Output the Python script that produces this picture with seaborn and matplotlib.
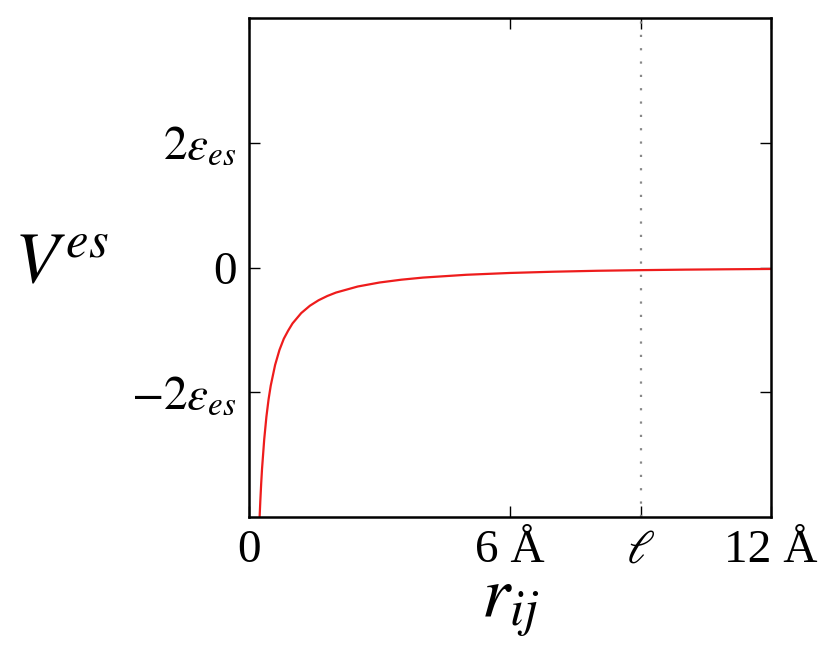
import numpy as np
import pandas as pd
import seaborn as sns
import matplotlib.pyplot as plt

# screened electrostatic potential (units of eps_es)
r_vals = [0.24, 0.26, 0.28, 0.30, 0.35, 0.40, 0.45, 0.50, 0.60, 0.70, 0.80, 0.90,
          1.0, 1.2, 1.4, 1.6, 1.8, 2.0, 2.5, 3.0, 3.5, 4.0, 5.0, 6.0, 7.0, 8.0,
          9.0, 10.0, 11.0, 12.0]
v_vals = [-4.06, -3.74, -3.46, -3.22, -2.75, -2.39, -2.11, -1.89, -1.56, -1.32,
          -1.14, -1.01, -0.895, -0.729, -0.611, -0.523, -0.455, -0.400, -0.303,
          -0.239, -0.194, -0.160, -0.115, -0.086, -0.066, -0.051, -0.041,
          -0.033, -0.027, -0.022]

ell = 9.0
x_ticks = [0, 6, ell, 12]
x_labels = ["0", "6 Å", r"$\ell$", "12 Å"]
y_ticks = [-2, 0, 2]
y_labels = [r"$-2\varepsilon_{es}$", "0", r"$2\varepsilon_{es}$"]

sns.set_style("ticks")
plt.rcParams['font.family'] = ['Liberation Serif', 'DejaVu Serif']
plt.rcParams['mathtext.fontset'] = 'stix'
plt.rcParams['text.color'] = 'black'
plt.rcParams['xtick.color'] = 'black'
plt.rcParams['ytick.color'] = 'black'
plt.rcParams['axes.labelcolor'] = 'black'

df = pd.DataFrame({"r": r_vals, "V": v_vals})

fig = plt.figure(figsize=(8.3, 6.64), dpi=100)
ax = fig.add_axes([0.300, 0.221, 0.629, 0.752])

sns.lineplot(data=df, x="r", y="V", color="#ee1c1c", linewidth=1.6, ax=ax)
ax.axvline(ell, color="#888888", linestyle=(0, (1, 5)), linewidth=1.6)

ax.set_xlim(0, 12)
ax.set_ylim(-4, 4)
ax.set_xticks(x_ticks)
ax.set_xticklabels(x_labels, fontsize=34)
ax.set_yticks(y_ticks)
ax.set_yticklabels(y_labels, fontsize=34)
ax.tick_params(direction="in", length=8, width=1, top=True, right=True, pad=9)

for s in ax.spines.values():
    s.set_linewidth(1.8)
    s.set_color("black")

ax.set_xlabel(r"$r_{ij}$", fontsize=52)
ax.xaxis.set_label_coords(0.5, -0.115)
ax.set_ylabel(r"$V^{es}$", fontsize=52, rotation=0, ha="center", va="center")
ax.yaxis.set_label_coords(-0.36, 0.505)

fig.savefig("out.png", dpi=100)
